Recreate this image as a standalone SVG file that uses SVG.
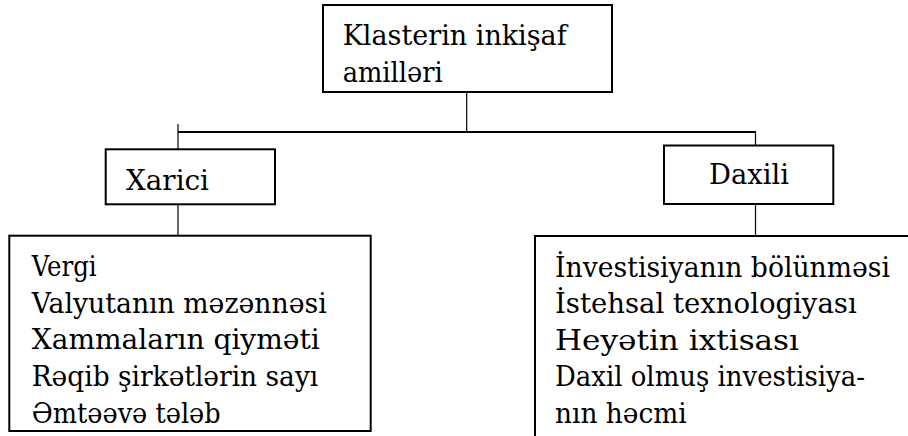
<svg xmlns="http://www.w3.org/2000/svg" width="908" height="436" viewBox="0 0 908 436">
<style>
.box{fill:#fff;stroke:#000;stroke-width:2}
.t{font-family:'DejaVu Serif','Liberation Serif',serif;font-size:28px;fill:#000}
.c{stroke:#000;fill:none}
</style>
<rect width="908" height="436" fill="#fff"/>
<g id="connectors">
<line class="c" x1="466.7" y1="92" x2="466.7" y2="132" stroke-width="1.2"/>
<line class="c" x1="178" y1="132" x2="756" y2="132" stroke-width="2"/>
<line class="c" x1="178" y1="124" x2="178" y2="149" stroke-width="1.2"/>
<line class="c" x1="755.5" y1="132" x2="755.5" y2="155" stroke-width="1.2"/>
<line class="c" x1="178" y1="204" x2="178" y2="236" stroke-width="1.2"/>
<line class="c" x1="755.5" y1="204" x2="755.5" y2="236" stroke-width="1.2"/>
</g>
<g id="root">
<rect class="box" x="323" y="5" width="289" height="87"/>
<text class="t" x="342.7" y="45" textLength="224" lengthAdjust="spacingAndGlyphs">Klasterin inkişaf</text>
<text class="t" x="342.7" y="81.7" textLength="100" lengthAdjust="spacingAndGlyphs">amilləri</text>
</g>
<g id="xarici">
<rect class="box" x="105.7" y="149.3" width="169.3" height="55" stroke-width="1.6"/>
<text class="t" x="126" y="190" textLength="83" lengthAdjust="spacingAndGlyphs">Xarici</text>
</g>
<g id="daxili">
<rect class="box" x="664" y="145.5" width="169.3" height="58.5" stroke-width="1.6"/>
<text class="t" x="709" y="184" textLength="80" lengthAdjust="spacingAndGlyphs">Daxili</text>
</g>
<g id="xarici-list">
<rect class="box" x="9.3" y="235.7" width="361.4" height="195.3"/>
<text class="t" x="31.7" y="276" textLength="65" lengthAdjust="spacingAndGlyphs">Vergi</text>
<text class="t" x="31.7" y="312.7" textLength="295" lengthAdjust="spacingAndGlyphs">Valyutanın məzənnəsi</text>
<text class="t" x="31.7" y="349.3" textLength="288" lengthAdjust="spacingAndGlyphs">Xammaların qiyməti</text>
<text class="t" x="31.7" y="386" textLength="286.6" lengthAdjust="spacingAndGlyphs">Rəqib şirkətlərin sayı</text>
<text class="t" x="31.7" y="422.5" textLength="189" lengthAdjust="spacingAndGlyphs">Əmtəəvə tələb</text>
</g>
<g id="daxili-list">
<rect class="box" x="535" y="236" width="400" height="220"/>
<text class="t" x="555" y="276.5" textLength="335" lengthAdjust="spacingAndGlyphs">İnvestisiyanın bölünməsi</text>
<text class="t" x="555" y="313" textLength="301.7" lengthAdjust="spacingAndGlyphs">İstehsal texnologiyası</text>
<text class="t" x="555" y="349.5" textLength="244" lengthAdjust="spacingAndGlyphs">Heyətin ixtisası</text>
<text class="t" x="555" y="386" textLength="310" lengthAdjust="spacingAndGlyphs">Daxil olmuş investisiya-</text>
<text class="t" x="555" y="422.5" textLength="131.7" lengthAdjust="spacingAndGlyphs">nın həcmi</text>
</g>
</svg>
